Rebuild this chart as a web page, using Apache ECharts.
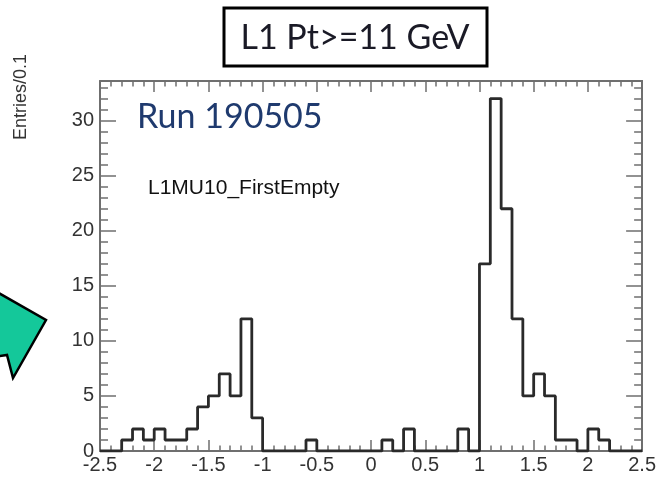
<!DOCTYPE html>
<html>
<head>
<meta charset="utf-8">
<script src="https://cdn.jsdelivr.net/npm/echarts@6/dist/echarts.min.js"></script>
<style>
  html, body { margin: 0; padding: 0; background: #ffffff; }
  #chart { width: 659px; height: 477px; }
</style>
</head>
<body>
<div id="chart"></div>
<script>
// Muon eta distribution, L1MU10_FirstEmpty, run 190505 (bins of 0.1 from -2.5 to 2.5)
const binLowEdge = -2.5;
const binWidth = 0.1;
const counts = [
  0, 0, 1, 2, 1, 2, 1, 1, 2, 4,      // -2.5 .. -1.5
  5, 7, 5, 12, 3, 0, 0, 0, 0, 1,     // -1.5 .. -0.5
  0, 0, 0, 0, 0, 0, 1, 0, 2, 0,      // -0.5 .. 0.5
  0, 0, 0, 2, 0, 17, 32, 22, 12, 5,  //  0.5 .. 1.5
  7, 5, 1, 1, 0, 2, 1, 0, 0, 0       //  1.5 .. 2.5
];
const xRange = [-2.5, 2.5];
const yRange = [0, 33.6];
const xMajorStep = 0.5;
const yMajorStep = 5;
const yMinorStep = 1;

const titleText = 'L1 Pt>=11 GeV';
const runText = 'Run 190505';
const triggerText = 'L1MU10_FirstEmpty';
const yTitle = 'Entries/0.1';

// outline of the histogram: one point per bin low edge, closed at the last high edge
const outline = counts.map((c, i) => [+(binLowEdge + i * binWidth).toFixed(2), c]);
outline.push([+(binLowEdge + counts.length * binWidth).toFixed(2), counts[counts.length - 1]]);

const frameColor = '#6f6f6f';
const labelFont = 'Liberation Sans';

function xAxisDef(pos, withLabels) {
  return {
    type: 'value', position: pos, min: xRange[0], max: xRange[1], interval: xMajorStep,
    axisLine: { show: true, onZero: false, lineStyle: { color: frameColor, width: 2 } },
    axisTick: { show: true, inside: true, length: 11, lineStyle: { color: frameColor, width: 1.5 } },
    minorTick: { show: true, splitNumber: 5, length: 5.5, lineStyle: { color: frameColor, width: 1.5 } },
    axisLabel: { show: withLabels, color: '#333', fontFamily: labelFont, fontSize: 20, margin: 4 },
    splitLine: { show: false }
  };
}
function yAxisDef(pos, step, tickLen, withLine, withLabels) {
  return {
    type: 'value', position: pos, min: yRange[0], max: yRange[1], interval: step,
    axisLine: { show: withLine, onZero: false, lineStyle: { color: frameColor, width: 2 } },
    axisTick: { show: true, inside: true, length: tickLen, lineStyle: { color: frameColor, width: 1.5 } },
    axisLabel: { show: withLabels, showMaxLabel: false, color: '#333', fontFamily: labelFont, fontSize: 20, margin: 6 },
    splitLine: { show: false }
  };
}

const chart = echarts.init(document.getElementById('chart'), null, { renderer: 'canvas' });
chart.setOption({
  animation: false,
  backgroundColor: '#ffffff',
  grid: { left: 100, top: 81, right: 16, bottom: 26 },
  xAxis: [xAxisDef('bottom', true), xAxisDef('top', false)],
  yAxis: [
    yAxisDef('left', yMajorStep, 16, true, true),
    yAxisDef('left', yMinorStep, 8, false, false),
    yAxisDef('right', yMajorStep, 16, true, false),
    yAxisDef('right', yMinorStep, 8, false, false)
  ],
  series: [{
    type: 'line',
    step: 'end',
    xAxisIndex: 0,
    yAxisIndex: 0,
    data: outline,
    symbol: 'none',
    lineStyle: { color: '#2a2a2a', width: 2.8 },
    z: 5
  }],
  graphic: [
    // green block arrow on the left edge
    {
      type: 'polygon', z: 10,
      shape: { points: [[-40, 271], [46, 320], [13, 378], [7, 355], [-40, 362]] },
      style: { fill: '#14c89a', stroke: '#000000', lineWidth: 2.5, lineJoin: 'miter' }
    },
    // title box
    {
      type: 'rect', z: 10,
      shape: { x: 224, y: 8, width: 263, height: 58 },
      style: { fill: '#ffffff', stroke: '#000000', lineWidth: 3 }
    },
    {
      type: 'text', z: 11, x: 355, y: 38,
      style: { text: titleText, fill: '#1a1a26', font: '34px Lato', align: 'center', verticalAlign: 'middle' }
    },
    {
      type: 'text', z: 11, x: 137, y: 117,
      style: { text: runText, fill: '#1f3a6e', font: '34px Lato', align: 'left', verticalAlign: 'middle' }
    },
    {
      type: 'text', z: 11, x: 148, y: 188,
      style: { text: triggerText, fill: '#111111', font: '21px "Liberation Sans"', align: 'left', verticalAlign: 'middle' }
    },
    {
      type: 'text', z: 11, x: 21, y: 54, rotation: Math.PI / 2,
      style: { text: yTitle, fill: '#333333', font: '18px "Liberation Sans"', align: 'right', verticalAlign: 'middle' }
    }
  ]
});
</script>
</body>
</html>
